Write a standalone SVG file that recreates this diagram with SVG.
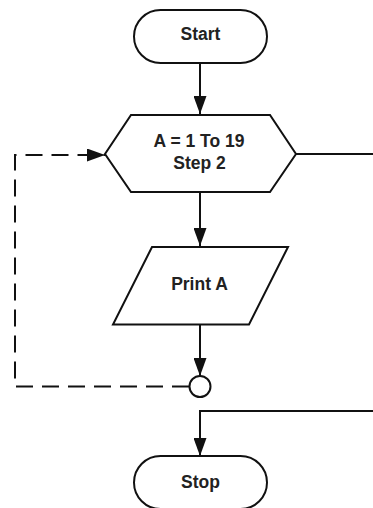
<svg xmlns="http://www.w3.org/2000/svg" width="373" height="508" viewBox="0 0 373 508">
<defs>
<style>
.shape{fill:#fff;stroke:#111;stroke-width:2;stroke-linejoin:miter}
.line{fill:none;stroke:#111;stroke-width:2}
.dash{fill:none;stroke:#111;stroke-width:2;stroke-dasharray:17,9}
.lbl{font-family:"Liberation Sans",Arial,sans-serif;font-weight:bold;font-size:17.5px;fill:#222;text-anchor:middle}
</style>
<marker id="arr" markerUnits="userSpaceOnUse" markerWidth="18" markerHeight="13" refX="18" refY="6.5" orient="auto">
<path d="M0,0 L18,6.5 L0,13 Z" fill="#111"/>
</marker>
</defs>
<rect width="373" height="508" fill="#fff"/>
<g id="connectors">
<line class="line" x1="200" y1="63" x2="200" y2="114" marker-end="url(#arr)"/>
<line class="line" x1="200" y1="192" x2="200" y2="246" marker-end="url(#arr)"/>
<line class="line" x1="200" y1="324" x2="200" y2="376" marker-end="url(#arr)"/>
<line class="line" x1="296" y1="154" x2="373" y2="154"/>
<polyline class="line" points="373,411 200,411 200,456" marker-end="url(#arr)"/>
<polyline class="dash" points="189,386.5 15,386.5 15,155 105,155" marker-end="url(#arr)"/>
</g>
<g id="start">
<rect class="shape" x="134" y="10" width="133" height="53" rx="26.5" ry="26.5"/>
<text class="lbl" x="200.5" y="40">Start</text>
</g>
<g id="loop">
<polygon class="shape" points="131,115 270,115 296,154 270,192 131,192 105,154"/>
<text class="lbl" x="199" y="147">A = 1 To 19</text>
<text class="lbl" x="199.5" y="169">Step 2</text>
</g>
<g id="print">
<polygon class="shape" points="152,247 288,247 249,324.5 113,324.5"/>
<text class="lbl" x="199.5" y="290">Print A</text>
</g>
<g id="connector-circle">
<circle class="shape" cx="200" cy="386.5" r="10.5"/>
</g>
<g id="stop">
<rect class="shape" x="134" y="456" width="133" height="53" rx="26.5" ry="26.5"/>
<text class="lbl" x="200.5" y="488">Stop</text>
</g>
</svg>
